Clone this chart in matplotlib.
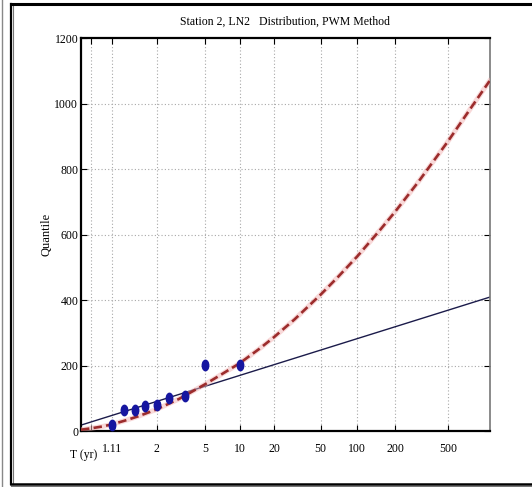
import math
from statistics import NormalDist

import numpy as np
import matplotlib
matplotlib.use("Agg")
import matplotlib.pyplot as plt
from matplotlib.lines import Line2D
from matplotlib.path import Path
from matplotlib.transforms import Affine2D

# frequency-factor axis (LN2, sigma_y used for the paper scale)
SIGMA_AX = 0.48

# observed annual maxima, Weibull plotting positions (n = 9)
obs_T = [10.0, 5.0, 3.333, 2.5, 2.0, 1.667, 1.429, 1.25, 1.111]
obs_q = [203, 201, 108, 100, 80, 77, 65, 64, 17]

# straight-line fit (mean + K*std) at the ends of the axis
line_T = [1.001, 1000.0]
line_q = [18, 409]

# LN2 / PWM quantile curve
ln2_T = [1.001, 1.01, 1.05, 1.11, 1.25, 1.5, 2, 3, 5, 7, 10, 15, 20, 30,
         50, 70, 100, 150, 200, 300, 500, 700, 1000]
ln2_q = [4, 8, 14, 20, 31, 45, 66, 98, 143, 174, 207, 252, 287, 341,
         417, 472, 534, 612, 671, 761, 885, 974, 1070]

tick_T = [1.01, 1.11, 2, 5, 10, 20, 50, 100, 200, 500]
tick_lab = ["", "1.11", "2", "5", "10", "20", "50", "100", "200", "500"]
ytick_vals = [0, 200, 400, 600, 800, 1000, 1200]


def kt(T):
    T = np.atleast_1d(np.asarray(T, dtype=float))
    z = np.array([NormalDist().inv_cdf(1.0 - 1.0 / t) for t in T])
    s = SIGMA_AX
    return (np.exp(s * z - s * s / 2) - 1) / math.sqrt(math.exp(s * s) - 1)


FONT = ["Liberation Serif", "DejaVu Serif"]
plt.rcParams["font.family"] = FONT

fig = plt.figure(figsize=(5.32, 4.87), dpi=100)
ax = fig.add_axes([81 / 532, 56 / 487, 408.5 / 532, 392.5 / 487])

ax.set_xlim(kt(1.001)[0], kt(1000)[0])
ax.set_ylim(0, 1200)

# dotted grid at the return-period ticks
for t in tick_T:
    ax.axvline(kt(t)[0], color="#a8a8a8", lw=0.8, ls=(0, (1, 2)), zorder=0)
for v in ytick_vals[1:-1]:
    ax.axhline(v, color="#a8a8a8", lw=0.8, ls=(0, (1, 2)), zorder=0)

ax.plot(kt(line_T), line_q, color="#1b1b4a", lw=1.0, zorder=2)

xc = kt(ln2_T)
ax.plot(xc, ln2_q, color="#f2b4b4", lw=3.6, alpha=0.5, zorder=3)
ax.plot(xc, ln2_q, color="#9c2c2c", lw=1.9, dashes=(3.2, 1.6), zorder=4)

ellipse = Path.unit_circle().transformed(Affine2D().scale(0.62, 1.0))
ax.plot(kt(obs_T), obs_q, ls="none", marker=ellipse, markersize=7.5,
        color="#1616a0", zorder=5)

ax.set_xticks(kt(tick_T))
ax.set_xticklabels(tick_lab)
ax.set_yticks(ytick_vals)
ax.tick_params(axis="x", direction="in", length=4, pad=9, labelsize=8.5,
               top=True)
ax.tick_params(axis="y", direction="in", length=4, pad=2, labelsize=8.5,
               right=True)

for side in ("left", "bottom", "top"):
    ax.spines[side].set_linewidth(1.6)
    ax.spines[side].set_color("black")
ax.spines["right"].set_color("#777777")
ax.spines["right"].set_linewidth(1.2)

ax.set_ylabel("Quantile", fontsize=9, labelpad=1)
ax.set_title("Station 2, LN2   Distribution, PWM Method", fontsize=8.5, pad=10)
ax.text(0.007, -0.045, "T (yr)", transform=ax.transAxes, ha="center",
        va="top", fontsize=8.5)

# page frame
H, W = 487.0, 532.0
fig.add_artist(Line2D([1.5 / W, 1.5 / W], [0, 1], color="#888888", lw=1.0))
fig.add_artist(Line2D([10.5 / W, 10.5 / W], [3 / H, 1 - 4 / H], color="black", lw=1.6))
fig.add_artist(Line2D([12.5 / W, 12.5 / W], [3 / H, 1 - 4 / H], color="#777777", lw=0.8))
fig.add_artist(Line2D([10.5 / W, 1], [1 - 4 / H, 1 - 4 / H], color="black", lw=2.2))
fig.add_artist(Line2D([10.5 / W, 1], [3.5 / H, 3.5 / H], color="black", lw=1.8))
fig.add_artist(Line2D([10.5 / W, 1], [1.2 / H, 1.2 / H], color="#777777", lw=0.8))

fig.savefig("out.png", dpi=100)
